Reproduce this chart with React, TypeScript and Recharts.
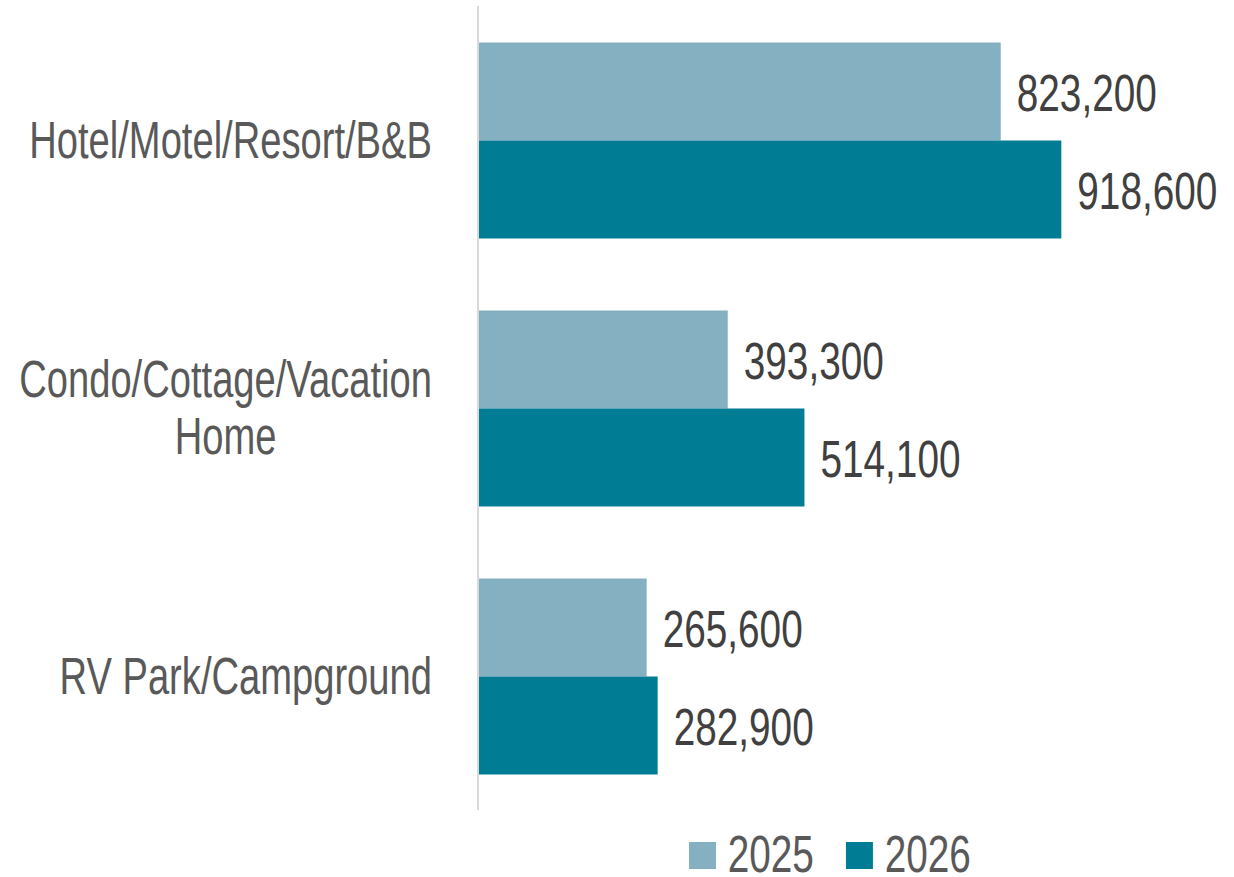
import React from "react";
import { BarChart, Bar, XAxis, YAxis, Legend, LabelList } from "recharts";

const categories = ["Hotel/Motel/Resort/B&B", "Condo/Cottage/Vacation\nHome", "RV Park/Campground"];
const values2025 = [823200, 393300, 265600];
const values2026 = [918600, 514100, 282900];
const seriesNames = ["2025", "2026"];
const seriesColors = ["#85B0C2", "#007C95"];

const data = categories.map((c, i) => ({ name: c, v2025: values2025[i], v2026: values2026[i] }));

const FONT = "'Liberation Sans', Arial, sans-serif";
const FS = 51;
const SX = 0.76;
const SX_CAT = 0.748;

let ctx: CanvasRenderingContext2D | null = null;
const measure = (s: string, sx: number = SX) => {
  if (!ctx) ctx = document.createElement("canvas").getContext("2d");
  if (!ctx) return s.length * FS * 0.5 * sx;
  ctx.font = `${FS}px ${FONT}`;
  return ctx.measureText(s).width * sx;
};

const NarrowText = ({ x, y, anchor, fill, sx = SX, children }: any) => (
  <text
    transform={`translate(${x},${y}) scale(${sx},1)`}
    textAnchor={anchor}
    fill={fill}
    fontSize={FS}
    fontFamily={FONT}
  >
    {children}
  </text>
);

const CategoryTick = (props: any) => {
  const { x, y, payload } = props;
  const lines: string[] = String(payload.value).split("\n");
  const maxW = Math.max(...lines.map((l) => measure(l, SX_CAT)));
  const lh = 56.6;
  const cx = x - maxW / 2;
  return (
    <g>
      {lines.map((l, i) => (
        <NarrowText key={i} x={cx} y={y + (i - (lines.length - 1) / 2) * lh + 17.5} anchor="middle" fill="#595959" sx={SX_CAT}>
          {l}
        </NarrowText>
      ))}
    </g>
  );
};

const fmt = (v: any) => Number(v).toLocaleString("en-US");

const ValueLabel = (props: any) => {
  const { x, y, width, height, value } = props;
  return (
    <NarrowText x={Number(x) + Number(width) + 16} y={Number(y) + Number(height) / 2 + 20} anchor="start" fill="#404040">
      {fmt(value)}
    </NarrowText>
  );
};

const LegendContent = (props: any) => {
  const payload = props.payload || [];
  let cur = 0;
  const items = payload.map((p: any) => {
    const sq = cur;
    const tx = sq + 38.7;
    const w = measure(String(p.value));
    cur = tx + w + 32;
    return { sq, tx, color: p.color, label: String(p.value) };
  });
  return (
    <svg width={320} height={62} style={{ display: "block", overflow: "visible" }}>
      {items.map((it: any) => (
        <g key={it.label}>
          <rect x={it.sq} y={27} width={27} height={27} fill={it.color} />
          <NarrowText x={it.tx} y={56.7} anchor="start" fill="#595959">
            {it.label}
          </NarrowText>
        </g>
      ))}
    </svg>
  );
};

export default function App() {
  return (
    <div style={{ position: "absolute", left: 0, top: 0, width: 1234, height: 877, background: "#fff" }}>
      <BarChart
        width={1234}
        height={877}
        data={data}
        layout="vertical"
        margin={{ top: 6, right: 121, bottom: 67, left: 0 }}
        barCategoryGap="13.6%"
        barGap={0}
      >
        <XAxis type="number" domain={[0, 1000000]} hide />
        <YAxis
          type="category"
          dataKey="name"
          width={478}
          tickLine={false}
          tickSize={0}
          tickMargin={46}
          axisLine={{ stroke: "#D9D9D9", strokeWidth: 2 }}
          tick={<CategoryTick />}
          interval={0}
        />
        <Legend
          verticalAlign="middle"
          align="center"
          layout="horizontal"
          content={<LegendContent />}
          wrapperStyle={{ left: 689, top: 815, width: 320, height: 62 }}
        />
        <Bar dataKey="v2025" name={seriesNames[0]} fill={seriesColors[0]} isAnimationActive={false}>
          <LabelList dataKey="v2025" content={<ValueLabel />} />
        </Bar>
        <Bar dataKey="v2026" name={seriesNames[1]} fill={seriesColors[1]} isAnimationActive={false}>
          <LabelList dataKey="v2026" content={<ValueLabel />} />
        </Bar>
      </BarChart>
    </div>
  );
}
